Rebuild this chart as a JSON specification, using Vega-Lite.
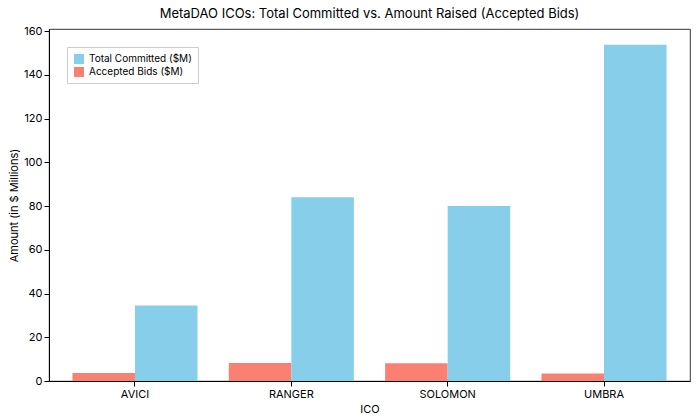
{
  "$schema": "https://vega.github.io/schema/vega-lite/v6.json",
  "width": 700,
  "height": 420,
  "autosize": {"type": "fit", "contains": "padding"},
  "padding": {"left": 8, "right": 10, "top": 8, "bottom": 6},
  "title": {"text": "MetaDAO ICOs: Total Committed vs. Amount Raised (Accepted Bids)", "font": "Inter", "fontSize": 13, "fontWeight": "normal", "color": "black"},
  "config": {
    "font": "Inter",
    "view": {"stroke": "black", "strokeWidth": 0.8},
    "axis": {"grid": false, "domainColor": "black", "tickColor": "black", "labelColor": "black", "titleColor": "black", "labelFontSize": 11, "titleFontSize": 11, "titleFontWeight": "normal"}
  },
  "data": {"values": [
    {"ico": "AVICI", "series": "Accepted Bids ($M)", "v": 3.7},
    {"ico": "AVICI", "series": "Total Committed ($M)", "v": 34.5},
    {"ico": "RANGER", "series": "Accepted Bids ($M)", "v": 8.2},
    {"ico": "RANGER", "series": "Total Committed ($M)", "v": 84.1},
    {"ico": "SOLOMON", "series": "Accepted Bids ($M)", "v": 8.1},
    {"ico": "SOLOMON", "series": "Total Committed ($M)", "v": 80.0},
    {"ico": "UMBRA", "series": "Accepted Bids ($M)", "v": 3.4},
    {"ico": "UMBRA", "series": "Total Committed ($M)", "v": 153.8}
  ]},
  "mark": {"type": "bar"},
  "encoding": {
    "x": {"field": "ico", "type": "nominal", "title": "ICO", "scale": {"paddingInner": 0.2, "paddingOuter": 0.15}, "axis": {"labelAngle": 0}},
    "xOffset": {"field": "series", "sort": ["Accepted Bids ($M)", "Total Committed ($M)"]},
    "y": {"field": "v", "type": "quantitative", "title": "Amount (in $ Millions)", "scale": {"domain": [0, 161]}, "axis": {"values": [0, 20, 40, 60, 80, 100, 120, 140, 160]}},
    "color": {"field": "series", "type": "nominal", "title": null,
      "scale": {"domain": ["Total Committed ($M)", "Accepted Bids ($M)"], "range": ["#87CEEB", "#FA8072"]},
      "legend": {"orient": "top-left", "strokeColor": "#cccccc", "fillColor": "white", "padding": 6, "symbolType": "square", "labelFontSize": 10}}
  }
}
